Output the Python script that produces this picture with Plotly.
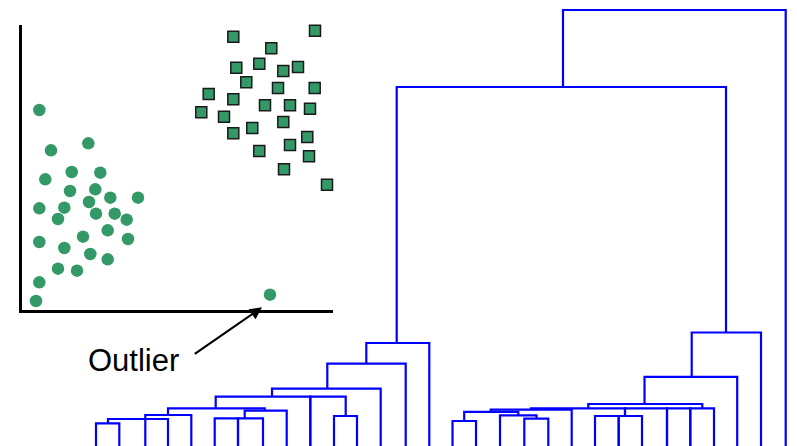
import plotly.graph_objects as go

# ---------------- scatter data (units: distance from the axis origin) -------------
circle_x = [18.3, 30, 67.3, 24.3, 50.7, 79.3, 49, 74.3, 89.3, 117, 18.3, 43.3, 68, 37, 75,
            93.7, 105.7, 86.7, 62, 107, 18.3, 43.3, 69.3, 86.7, 37, 56, 18.3, 15]
circle_y = [201.7, 161.4, 168.4, 132.4, 139.7, 139, 120.7, 122.4, 114, 114, 103.4, 104, 109.7,
            92.7, 98, 98, 92, 81.4, 75, 72.7, 69.7, 63.7, 57.7, 52.4, 43, 41, 29.4, 10.7]
outlier_x = [249]
outlier_y = [17]
square_x = [212.3, 294, 250.3, 215.3, 238.3, 262.3, 277, 225.3, 257, 293.7, 187.7, 212.3, 244,
            269, 289, 180.3, 203, 262.3, 231.3, 212.3, 286.3, 269, 238.3, 288, 263, 306]
square_y = [275, 281, 263.4, 244, 248, 240.7, 244.7, 229.4, 223.7, 223.7, 217.7, 212.4, 206.4,
            206.4, 203, 199.4, 195, 189.7, 183.7, 178.4, 174.7, 166.7, 160.7, 155.4, 142.4, 127]
annotation_text = "Outlier"

# ---------------- dendrogram links (leaf positions, merge heights) ----------------
link_left = [96, 108, 145.3, 168, 244.7, 214.7, 238, 215.7, 310.3, 334, 272, 327.3, 366.3,
             396.7, 563,
             452.5, 524.3, 500, 464.2, 490.7, 595, 618.7, 531, 625, 667, 690.3, 588.3,
             644.5, 691.7]
link_right = [119.3, 168, 191.3, 264.7, 286.7, 238, 263, 310.3, 345.7, 357, 380.7, 405.7, 429.3,
              726, 785.7,
              476, 548.3, 536.5, 518.3, 571.7, 618.7, 642, 625, 667, 690.3, 714, 702.3,
              737.2, 761]
link_top = [22.7, 27, 31, 37.7, 35.3, 27.7, 27.7, 49.3, 49.3, 30, 57.3, 82.3, 103,
            359, 436,
            25, 27.3, 30.7, 34.2, 36.3, 30, 30, 37.7, 37.7, 37.7, 37.7, 42,
            69.2, 113.5]
link_left_base = [0, 22.7, 0, 31, 27.7, 0, 0, 37.7, 0, 0, 49.3, 57.3, 82.3,
                  103, 359,
                  0, 0, 0, 25, 34.2, 0, 0, 36.3, 30, 0, 0, 37.7,
                  42, 69.2]
link_right_base = [0, 0, 0, 35.3, 0, 0, 0, 0, 30, 0, 0, 0, 0,
                   113.5, 0,
                   0, 0, 27.3, 30.7, 0, 0, 0, 30, 0, 0, 0, 37.7,
                   0, 0]

green = "#339966"

fig = go.Figure()

# dendrogram
dx, dy = [], []
for xl, xr, t, lb, rb in zip(link_left, link_right, link_top, link_left_base, link_right_base):
    dx += [xl, xl, xr, xr, None]
    dy += [lb, t, t, rb, None]
fig.add_trace(go.Scatter(x=dx, y=dy, mode="lines", line=dict(color="#0000ff", width=2.2),
                         hoverinfo="skip", showlegend=False, xaxis="x", yaxis="y",
                         cliponaxis=False))

# scatter
fig.add_trace(go.Scatter(x=circle_x + outlier_x, y=circle_y + outlier_y, mode="markers",
                         marker=dict(symbol="circle", size=12.5, color=green,
                                     line=dict(width=0)),
                         showlegend=False, xaxis="x2", yaxis="y2", cliponaxis=False))
fig.add_trace(go.Scatter(x=square_x, y=square_y, mode="markers",
                         marker=dict(symbol="square", size=11, color=green,
                                     line=dict(width=1.5, color="#1a1a1a")),
                         showlegend=False, xaxis="x2", yaxis="y2", cliponaxis=False))

fig.add_annotation(x=241, y=4.4, ax=172.3, ay=-43.3, xref="x2", yref="y2",
                   axref="x2", ayref="y2", text="", showarrow=True,
                   arrowhead=2, arrowsize=1.1, arrowwidth=2.2, arrowcolor="black")
fig.add_annotation(x=133.6, y=86, xref="x", yref="y", text=annotation_text, showarrow=False,
                   font=dict(family="Liberation Sans, Arial, sans-serif", size=31, color="black"),
                   xanchor="center", yanchor="middle")

fig.update_layout(
    width=797, height=446, margin=dict(l=0, r=0, t=0, b=0),
    paper_bgcolor="white", plot_bgcolor="rgba(0,0,0,0)",
    xaxis=dict(range=[0, 797], domain=[0, 1], visible=False, fixedrange=True),
    yaxis=dict(range=[0, 446], domain=[0, 1], visible=False, fixedrange=True),
    xaxis2=dict(range=[1.3, 311.7], domain=[22.3 / 797, 332.7 / 797], anchor="y2",
                showline=True, linecolor="black", linewidth=2.5, showgrid=False,
                zeroline=False, showticklabels=False, ticks=""),
    yaxis2=dict(range=[1.3, 286.7], domain=[(446 - 310.4) / 446, (446 - 25) / 446], anchor="x2",
                showline=True, linecolor="black", linewidth=2.5, showgrid=False,
                zeroline=False, showticklabels=False, ticks=""),
)

fig.write_html("out.html")
